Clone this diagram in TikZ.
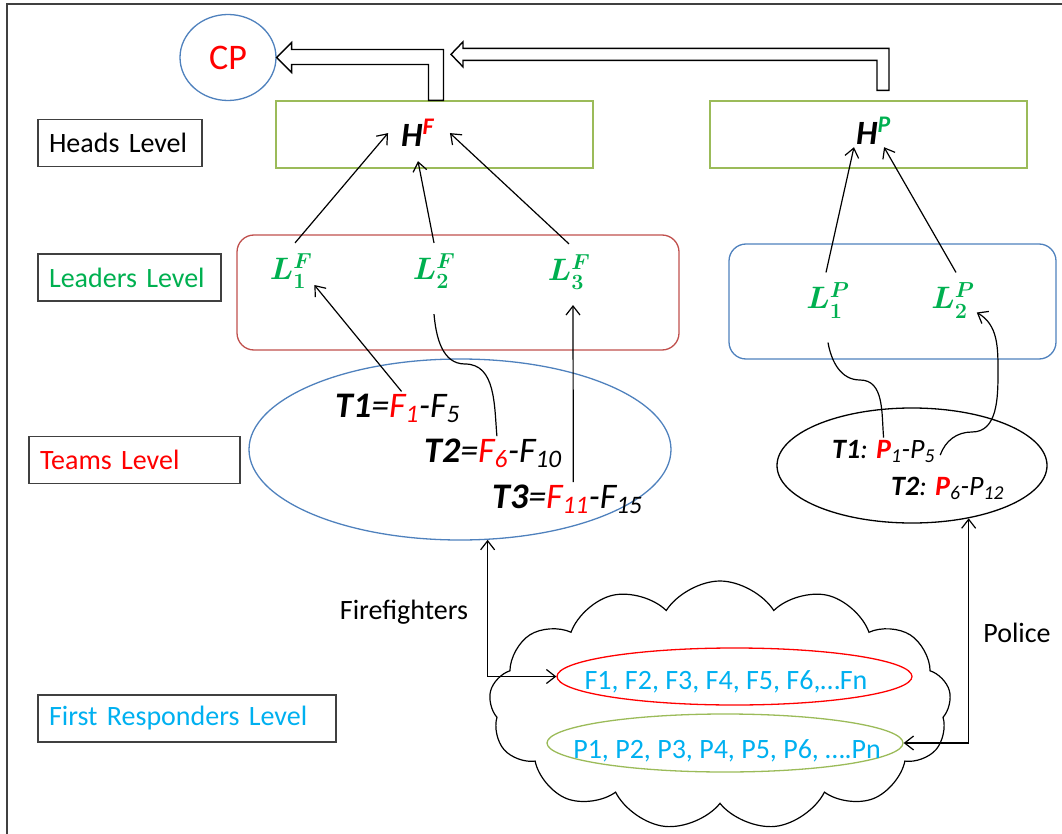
\RequirePackage{fix-cm}
\documentclass[tikz,border=0pt]{standalone}
\usepackage{fontspec}
\setmainfont{Carlito}
\usepackage{bm}
\usetikzlibrary{arrows.meta,positioning,shapes.geometric,shapes.symbols,calc}
\definecolor{boxgreen}{RGB}{155,187,89}
\definecolor{boxred}{RGB}{192,80,77}
\definecolor{boxblue}{RGB}{79,129,189}
\definecolor{txtred}{RGB}{255,0,0}
\definecolor{txtgreen}{RGB}{0,176,80}
\definecolor{txtcyan}{RGB}{0,176,240}
\definecolor{framegray}{RGB}{64,64,64}
\tikzset{
    line/.style    = {-{Straight Barb[length=9pt,width=14pt]}, line width=1.2pt},
    plain/.style   = {line width=1.2pt},
    twoway/.style  = {{Straight Barb[length=9pt,width=14pt]}-{Straight Barb[length=9pt,width=14pt]}, line width=1.2pt},
    levelbox/.style = {draw=framegray, line width=1.3pt, align=left,
            inner xsep=11pt, minimum height=47pt, font=\fontsize{28}{34}\selectfont},
    headbox/.style = {draw=boxgreen, line width=1.3pt, minimum width=317pt, minimum height=67pt},
    leadbox/.style = {line width=1.3pt, rounded corners=17pt, minimum height=115pt},
    oval/.style    = {ellipse, line width=1.3pt, inner sep=0pt},
    headlbl/.style = {inner sep=2pt, anchor=base, font=\fontsize{34}{40}\selectfont},
    leadlbl/.style = {inner xsep=2pt, inner ysep=10pt, text=txtgreen, font=\fontsize{31}{37}\selectfont\boldmath},
    teamF/.style   = {anchor=base west, inner sep=2pt, font=\fontsize{36}{42}\selectfont\itshape},
    teamP/.style   = {anchor=base west, inner sep=2pt, font=\fontsize{28}{34}\selectfont\itshape},
    frtext/.style  = {text=txtcyan, inner sep=1pt, font=\fontsize{28}{34}\selectfont},
    blockarr/.style = {draw=black, fill=white, line width=1.4pt, line join=miter},
}

\begin{document}
\begin{tikzpicture}[x=1pt, y=-1pt]
    \useasboundingbox (0,0) rectangle (1062,834);
    \draw[framegray, line width=1.5pt] (7,834) -- (7,4) -- (1062,4);

    % Level labels
    \node[levelbox, text width=142pt] (lvhead) at (120,143) {Heads Level};
    \node[levelbox, text width=161pt, text=txtgreen] (lvlead) at (129.5,277.5) {Leaders Level};
    \node[levelbox, text width=189pt, text=txtred] (lvteam) at (134.5,460) {Teams Level};
    \node[levelbox, text width=276pt, text=txtcyan] (lvfirst) at (187,718.5) {First Responders Level};

    % Command post and heads
    \node[oval, draw=boxblue, minimum width=96pt, minimum height=86pt, text=txtred,
          font=\fontsize{36}{42}\selectfont] (cp) at (228,57.5) {CP};
    \node[headbox] (hbf) at (434.5,134.5) {};
    \node[headbox] (hbp) at (868.5,134.5) {};
    \node[headlbl] (hf) at (418,147) {\textbf{\textit{H}}\textsuperscript{\color{txtred}\textbf{\textit{F}}}};
    \node[headlbl] (hp) at (873.5,145) {\textbf{\textit{H}}\textsuperscript{\color{txtgreen}\textbf{\textit{P}}}};

    % Leaders
    \node[leadbox, draw=boxred, minimum width=442pt] (ldf) at (458,292.5) {};
    \node[leadbox, draw=boxblue, minimum width=327pt] (ldp) at (892.5,301.5) {};
    \node[leadlbl] (lf1) at (291,271) {$L^{F}_{1}$};
    \node[leadlbl] (lf2) at (434,271) {$L^{F}_{2}$};
    \node[leadlbl] (lf3) at (569,272) {$L^{F}_{3}$};
    \node[leadlbl] (lp1) at (828,300.5) {$L^{P}_{1}$};
    \node[leadlbl] (lp2) at (953,300.5) {$L^{P}_{2}$};

    % Teams
    \node[oval, draw=boxblue, minimum width=422pt, minimum height=181pt] (tmf) at (460,449.5) {};
    \node[oval, draw=black, minimum width=270pt, minimum height=115pt] (tmp) at (912,465.5) {};
    \node[teamF] (tf1) at (333,417) {\textbf{T1}=\textcolor{txtred}{F\textsubscript{1}}-F\textsubscript{5}};
    \node[teamF] (tf2) at (422,462) {\textbf{T2}=\textcolor{txtred}{F\textsubscript{6}}-F\textsubscript{10}};
    \node[teamF] (tf3) at (490,508) {\textbf{T3}=\textcolor{txtred}{F\textsubscript{11}}-F\textsubscript{15}};
    \node[teamP] (tp1) at (830,458) {\textbf{T1}: \textcolor{txtred}{\textbf{P}}\textsubscript{1}-P\textsubscript{5}};
    \node[teamP] (tp2) at (889,495) {\textbf{T2}: \textcolor{txtred}{\textbf{P}}\textsubscript{6}-P\textsubscript{12}};

    % First responders
    \node[cloud, draw, cloud puffs=13, cloud puff arc=115, cloud ignores aspect, line width=1.2pt,
          minimum width=462pt, minimum height=249pt] (crowd) at (720,705.5) {};
    \node[oval, draw=txtred, minimum width=355pt, minimum height=57pt] (flf) at (734.5,676.5) {};
    \node[oval, draw=boxgreen, minimum width=356pt, minimum height=58pt] (flp) at (725,743) {};
    \node[frtext] (flftxt) at (726,682) {F1, F2, F3, F4, F5, F6,\dots Fn};
    \node[frtext] (flptxt) at (727,751) {P1, P2, P3, P4, P5, P6, \dots.Pn};
    \node[font=\fontsize{28}{34}\selectfont] (ffl) at (404,612) {Firefighters};
    \node[font=\fontsize{28}{34}\selectfont] (pol) at (1017,633) {Police};

    % Block arrows
    \draw[blockarr] (cp.east) -- ++(15,15) -- ++(0,-8) -| ([xshift=-6pt]hbf.north)
        -- ([xshift=9pt]hbf.north) |- ($(cp.east)+(15,-8)$) -- ++(0,-7) -- cycle;
    \coordinate (tip2) at ($(hbf.north)+(16.5,-46)$);
    \draw[blockarr] (tip2) -- ++(12,12.5) -- ++(0,-6.5) -| ([xshift=8.5pt,yshift=10pt]hbp.north)
        -- ([xshift=20.5pt,yshift=10pt]hbp.north) |- ($(tip2)+(12,-6)$) -- ++(0,-6.5) -- cycle;

    % Arrows
    \draw[line] ([xshift=4pt]lf1.north) -- ([xshift=-11pt]hf.west);
    \draw[line] (lf2.north) -- ([yshift=-12pt]hf.south);
    \draw[line] (lf3.north) -- ([xshift=13pt]hf.east);
    \draw[line] ([xshift=-2pt]lp1.north) -- (hp.south west);
    \draw[line] ([xshift=3pt]lp2.north) -- ([xshift=-9pt]hp.south east);
    \draw[line] ([xshift=4pt]tf1.north) -- ([yshift=-14pt]lf1.east);
    \draw[plain] ([xshift=4pt]tf2.north) to[out=95,in=0] (465,364) to[out=180,in=-85] ([yshift=-15pt]lf2.south);
    \draw[line] ([xshift=6pt]tf3.north) -- ([xshift=4pt,yshift=-5pt]lf3.south);
    \draw[plain] (tp1.north) to[out=95,in=0] (860,380) to[out=180,in=-80] ([yshift=-14pt]lp1.south);
    \draw[line] ([xshift=3pt,yshift=-4pt]tp1.east) to[out=70,in=180] (972,432)
        to[out=0,in=-90] (998,372) to[out=90,in=-30] ([yshift=-12pt]lp2.east);
    \draw[twoway] (tmf.-73) |- (flf.west);
    \draw[twoway] (tmp.-43) |- (flp.east);
\end{tikzpicture}
\end{document}
